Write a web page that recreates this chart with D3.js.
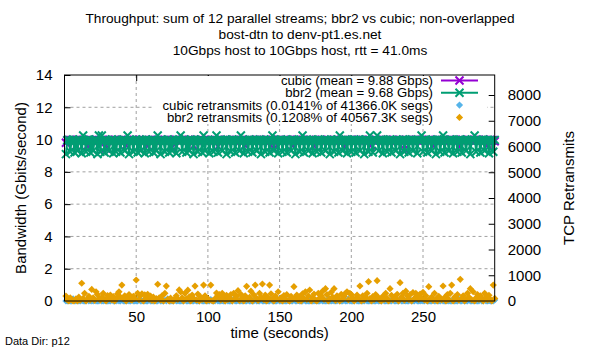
<!DOCTYPE html>
<meta charset="utf-8">
<script src="https://cdn.jsdelivr.net/npm/d3@7"></script>
<style>
  body { margin: 0; background: #fff; }
  text { font-family: "Liberation Sans", Arial, sans-serif; fill: #000; }
  .title { font-size: 13.7px; text-anchor: middle; }
  .tick { font-size: 15px; }
  .label { font-size: 15px; text-anchor: middle; }
  .key { font-size: 13.2px; text-anchor: end; }
  .grid { stroke: #a0a0a0; stroke-width: 1; stroke-dasharray: 3,3; }
</style>
<svg width="600" height="350"></svg>
<script>

// throughput, Gbits/second, one sample per second (t = 1..300)
const cubicBw = [
  9.80, 9.96, 9.95, 9.97, 9.96, 9.95, 9.96, 9.60, 9.97, 9.96,
  9.95, 9.96, 9.97, 9.96, 9.95, 9.62, 9.96, 9.97, 9.95, 9.96,
  9.96, 9.97, 9.95, 9.96, 9.96, 9.95, 9.97, 9.96, 9.45, 9.96,
  9.97, 9.95, 9.96, 9.96, 9.97, 9.95, 9.96, 9.96, 9.95, 9.97,
  9.96, 9.96, 9.65, 9.97, 9.95, 9.96, 9.96, 9.97, 9.95, 9.96,
  9.95, 9.97, 9.96, 9.96, 9.96, 9.95, 9.97, 9.60, 9.96, 9.96,
  9.97, 9.95, 9.96, 9.96, 9.97, 9.95, 9.96, 9.96, 9.95, 9.97,
  9.96, 9.96, 9.97, 9.95, 9.50, 9.96, 9.96, 9.97, 9.95, 9.96,
  9.96, 9.97, 9.96, 9.95, 9.96, 9.95, 9.97, 9.96, 9.96, 9.62,
  9.97, 9.96, 9.95, 9.96, 9.97, 9.96, 9.95, 9.96, 9.95, 9.97,
  9.96, 9.96, 9.97, 9.95, 9.96, 9.96, 9.58, 9.97, 9.96, 9.95,
  9.96, 9.97, 9.96, 9.95, 9.96, 9.95, 9.97, 9.96, 9.96, 9.97,
  9.95, 9.96, 9.96, 9.97, 9.96, 9.65, 9.95, 9.96, 9.97, 9.96,
  9.95, 9.96, 9.95, 9.97, 9.96, 9.96, 9.97, 9.95, 9.96, 9.96,
  9.97, 9.96, 9.95, 9.96, 9.97, 9.45, 9.96, 9.95, 9.96, 9.97,
  9.96, 9.95, 9.96, 9.95, 9.97, 9.96, 9.96, 9.97, 9.62, 9.96,
  9.96, 9.97, 9.96, 9.95, 9.96, 9.97, 9.96, 9.95, 9.96, 9.95,
  9.97, 9.96, 9.96, 9.60, 9.97, 9.95, 9.96, 9.96, 9.97, 9.96,
  9.95, 9.96, 9.97, 9.96, 9.95, 9.96, 9.95, 9.97, 9.96, 9.96,
  9.97, 9.95, 9.96, 9.96, 9.55, 9.97, 9.96, 9.95, 9.96, 9.97,
  9.96, 9.95, 9.96, 9.95, 9.97, 9.96, 9.96, 9.97, 9.95, 9.96,
  9.96, 9.97, 9.96, 9.65, 9.95, 9.96, 9.97, 9.96, 9.95, 9.96,
  9.95, 9.97, 9.96, 9.96, 9.97, 9.95, 9.96, 9.96, 9.97, 9.96,
  9.95, 9.96, 9.97, 9.96, 9.95, 9.96, 9.40, 9.97, 9.96, 9.96,
  9.97, 9.95, 9.96, 9.96, 9.97, 9.96, 9.95, 9.96, 9.97, 9.96,
  9.95, 9.96, 9.95, 9.97, 9.96, 9.96, 9.62, 9.95, 9.96, 9.96,
  9.97, 9.96, 9.95, 9.96, 9.97, 9.96, 9.95, 9.96, 9.95, 9.97,
  9.96, 9.96, 9.97, 9.95, 9.96, 9.58, 9.97, 9.96, 9.95, 9.96,
  9.97, 9.96, 9.95, 9.96, 9.95, 9.97, 9.96, 9.96, 9.97, 9.95,
  9.96, 9.96, 9.97, 9.96, 9.65, 9.96, 9.97, 9.95, 9.96, 9.90
];

const bbr2Bw = [
  9.10, 9.96, 9.98, 9.25, 9.94, 10.00, 9.20, 9.96, 9.30, 9.98,
  9.94, 9.15, 10.25, 9.96, 9.25, 9.98, 10.00, 9.20, 9.94, 9.30,
  9.96, 9.98, 9.10, 10.25, 9.25, 10.25, 9.94, 9.20, 9.98, 9.96,
  9.30, 9.94, 10.00, 9.15, 9.96, 9.25, 9.98, 9.94, 9.20, 9.96,
  10.00, 9.30, 9.94, 10.25, 9.10, 9.98, 9.96, 9.25, 9.94, 10.00,
  9.20, 9.96, 9.30, 9.98, 9.94, 9.15, 10.00, 9.96, 9.25, 9.94,
  9.98, 9.20, 9.96, 9.30, 10.25, 9.94, 9.10, 9.98, 9.96, 9.25,
  9.94, 10.00, 9.20, 9.96, 9.30, 9.98, 9.94, 9.15, 9.96, 10.00,
  10.25, 9.25, 9.94, 9.98, 9.20, 9.96, 9.30, 10.00, 9.94, 9.10,
  9.98, 9.96, 9.25, 9.94, 10.00, 9.20, 10.25, 9.30, 9.96, 9.98,
  9.15, 9.94, 9.96, 9.25, 9.98, 10.25, 9.20, 9.94, 10.00, 9.30,
  9.96, 9.98, 9.10, 9.94, 9.96, 9.25, 10.00, 9.98, 9.20, 9.94,
  9.96, 9.30, 10.25, 9.94, 9.15, 9.98, 9.96, 9.25, 10.00, 9.94,
  9.20, 9.96, 9.98, 9.30, 9.94, 10.00, 9.10, 9.96, 9.98, 9.25,
  9.94, 9.96, 9.20, 10.00, 10.25, 9.30, 9.98, 9.94, 9.15, 9.96,
  10.00, 9.25, 9.94, 9.98, 9.20, 9.96, 9.94, 9.30, 10.00, 9.98,
  9.10, 9.94, 9.96, 9.25, 9.98, 10.25, 9.20, 9.94, 10.00, 9.30,
  9.96, 9.98, 9.15, 9.94, 9.96, 9.25, 10.00, 9.98, 9.20, 9.94,
  9.96, 9.30, 9.98, 9.94, 9.10, 10.00, 9.96, 9.25, 9.94, 9.98,
  9.20, 10.25, 9.96, 9.30, 9.94, 10.00, 9.15, 9.98, 9.96, 9.25,
  9.94, 10.00, 9.20, 9.96, 9.98, 9.30, 9.94, 9.96, 9.10, 10.00,
  9.98, 9.25, 10.25, 9.94, 9.20, 9.96, 9.98, 10.25, 9.30, 9.94,
  10.00, 9.15, 9.96, 9.98, 9.25, 9.94, 10.00, 9.20, 9.96, 9.94,
  9.30, 9.98, 9.96, 9.10, 9.94, 10.00, 9.25, 9.98, 9.96, 9.20,
  9.94, 10.00, 9.30, 9.96, 9.98, 9.15, 9.94, 9.96, 10.25, 9.25,
  9.98, 10.00, 9.20, 9.94, 9.96, 9.30, 9.98, 9.94, 9.10, 10.00,
  9.96, 9.25, 9.98, 10.25, 9.20, 9.94, 9.96, 9.30, 10.00, 9.98,
  9.15, 9.94, 9.96, 9.25, 9.98, 10.00, 9.20, 9.94, 9.96, 9.30,
  9.98, 9.94, 9.10, 10.00, 9.96, 10.25, 9.25, 9.94, 9.98, 9.20,
  9.96, 10.00, 9.30, 9.94, 9.98, 9.15, 9.96, 9.94, 9.25, 9.98
];

// TCP retransmits per second
const cubicRetr = [
  0, 0, 40, 0, 0, 80, 0, 0, 20, 0,
  0, 30, 0, 0, 0, 60, 0, 10, 0, 0,
  50, 0, 0, 0, 70, 0, 0, 20, 0, 0,
  0, 0, 60, 0, 0, 0, 30, 0, 0, 80,
  0, 0, 0, 20, 0, 0, 50, 0, 0, 0,
  0, 70, 0, 0, 10, 0, 0, 0, 40, 0,
  0, 0, 20, 0, 0, 60, 0, 0, 0, 30,
  0, 80, 0, 0, 0, 0, 50, 0, 10, 0,
  0, 0, 0, 40, 0, 0, 0, 70, 0, 0,
  30, 0, 0, 0, 60, 0, 0, 0, 20, 0,
  0, 50, 0, 0, 0, 80, 0, 0, 0, 10,
  0, 0, 40, 0, 0, 0, 0, 60, 0, 0,
  20, 0, 0, 0, 70, 0, 0, 30, 0, 0,
  0, 0, 50, 0, 0, 0, 80, 0, 0, 0,
  10, 0, 0, 60, 0, 0, 0, 0, 40, 0,
  0, 70, 0, 0, 0, 20, 0, 0, 0, 50,
  0, 0, 30, 0, 0, 0, 80, 0, 0, 0,
  0, 60, 0, 0, 10, 0, 0, 0, 40, 0,
  0, 0, 0, 70, 0, 0, 20, 0, 0, 0,
  50, 0, 0, 0, 30, 0, 0, 80, 0, 0,
  0, 0, 60, 0, 0, 0, 10, 0, 0, 40,
  0, 0, 0, 70, 0, 0, 0, 20, 0, 0,
  0, 50, 0, 0, 0, 30, 0, 0, 80, 0,
  0, 0, 0, 60, 0, 0, 10, 0, 0, 0,
  40, 0, 0, 0, 70, 0, 0, 0, 20, 0,
  0, 50, 0, 0, 0, 0, 30, 0, 0, 80,
  0, 0, 60, 0, 0, 0, 10, 0, 0, 0,
  40, 0, 0, 0, 70, 0, 0, 20, 0, 0,
  0, 50, 0, 0, 0, 30, 0, 0, 0, 80,
  0, 0, 60, 0, 0, 10, 0, 0, 0, 40
];

const bbr2Retr = [
  190, 40, 0, 120, 60, 0, 20, 80, 0, 150,
  30, 690, 100, 300, 0, 60, 180, 40, 450, 120,
  20, 360, 250, 90, 30, 140, 300, 60, 0, 210,
  100, 230, 40, 170, 0, 80, 280, 360, 150, 620,
  90, 200, 0, 120, 250, 60, 30, 180, 100, 815,
  300, 50, 210, 280, 0, 240, 130, 260, 70, 190,
  20, 150, 0, 90, 650, 120, 40, 200, 0, 300,
  580, 60, 0, 110, 20, 0, 90, 200, 60, 430,
  350, 120, 0, 300, 80, 420, 160, 0, 230, 100,
  580, 40, 270, 0, 150, 60, 620, 200, 0, 90,
  30, 620, 10, 0, 90, 310, 200, 250, 40, 300,
  160, 0, 220, 60, 130, 250, 0, 300, 80, 180,
  400, 20, 260, 100, 0, 200, 570, 60, 140, 380,
  0, 240, 620, 100, 20, 300, 150, 660, 50, 230,
  0, 120, 620, 280, 60, 0, 190, 90, 360, 40,
  120, 0, 210, 60, 250, 30, 0, 180, 70, 556,
  100, 230, 20, 150, 0, 280, 90, 360, 60, 200,
  427, 0, 130, 270, 40, 0, 300, 120, 200, 380,
  60, 480, 250, 0, 90, 340, 150, 480, 20, 200,
  100, 0, 260, 70, 180, 300, 360, 40, 300, 250,
  120, 0, 60, 230, 100, 582, 0, 200, 40, 150,
  300, 750, 90, 0, 170, 60, 250, 790, 130, 20,
  0, 180, 60, 300, 100, 0, 480, 220, 40, 150,
  90, 260, 0, 712, 150, 300, 30, 380, 200, 60,
  250, 0, 330, 100, 300, 180, 60, 270, 120, 340,
  40, 200, 0, 556, 90, 150, 20, 300, 60, 0,
  180, 100, 40, 582, 130, 0, 250, 60, 300, 620,
  0, 150, 90, 250, 30, 842, 100, 200, 0, 60,
  300, 150, 480, 40, 360, 0, 120, 250, 60, 200,
  100, 0, 300, 150, 40, 220, 60, 0, 620, 100
];

const titleLines = [
  "Throughput: sum of 12 parallel streams; bbr2 vs cubic; non-overlapped",
  "bost-dtn to denv-pt1.es.net",
  "10Gbps host to 10Gbps host, rtt = 41.0ms"
];
const keyLabels = [
  "cubic (mean = 9.88 Gbps)",
  "bbr2 (mean = 9.68 Gbps)",
  "cubic retransmits (0.0141% of 41366.0K segs)",
  "bbr2 retransmits (0.1208% of 40567.3K segs)"
];
const xTicks = [50, 100, 150, 200, 250];
const yTicks = [0, 2, 4, 6, 8, 10, 12, 14];
const y2Ticks = [0, 1000, 2000, 3000, 4000, 5000, 6000, 7000, 8000];

const colors = { cubic: "#9400d3", bbr2: "#009e73", cubicR: "#56b4e9", bbr2R: "#e69f00" };

const svg = d3.select("svg");
const pLeft = 64.5, pRight = 494.7, pTop = 75, pBottom = 301;

const x = d3.scaleLinear().domain([0, 300]).range([pLeft, pRight]);
const y = d3.scaleLinear().domain([0, 14]).range([pBottom, pTop]);
const y2 = d3.scaleLinear().domain([0, 8777]).range([pBottom, pTop]);

// title
svg.append("g").selectAll("text").data(titleLines).join("text")
  .attr("class", "title")
  .attr("x", 300).attr("y", (d, i) => 23 + i * 16)
  .text(d => d);

// grid
const grid = svg.append("g");
grid.selectAll(".gx").data(xTicks).join("line")
  .attr("class", "grid")
  .attr("x1", d => x(d)).attr("x2", d => x(d))
  .attr("y1", pTop).attr("y2", pBottom);
grid.selectAll(".gy").data(yTicks.filter(d => d > 0 && d < 14)).join("line")
  .attr("class", "grid")
  .attr("x1", pLeft).attr("x2", pRight)
  .attr("y1", d => y(d)).attr("y2", d => y(d));

// axes (gnuplot style: ticks inward)
const tk = 6;
const axX = svg.append("g").attr("transform", `translate(0,${pBottom})`)
  .call(d3.axisBottom(x).tickValues(xTicks).tickSize(-tk).tickPadding(10));
const axXTop = svg.append("g").attr("transform", `translate(0,${pTop})`)
  .call(d3.axisTop(x).tickValues(xTicks).tickSize(-tk).tickFormat(""));
const axY = svg.append("g").attr("transform", `translate(${pLeft},0)`)
  .call(d3.axisLeft(y).tickValues(yTicks).tickSize(-tk).tickPadding(12));
const axY2 = svg.append("g").attr("transform", `translate(${pRight},0)`)
  .call(d3.axisRight(y2).tickValues(y2Ticks).tickFormat(d3.format("d")).tickSize(-tk).tickPadding(13));
[axX, axXTop, axY, axY2].forEach(a => {
  a.select(".domain").remove();
  a.selectAll("line").attr("stroke", "#000");
  a.selectAll("text").attr("class", "tick").attr("font-family", null).attr("font-size", null);
});

const asPoints = (arr) => arr.map((v, i) => ({ t: i + 1, v }));

// throughput lines + X marks
function drawBw(arr, color) {
  const pts = asPoints(arr);
  const g = svg.append("g");
  g.append("path")
    .datum(pts)
    .attr("fill", "none").attr("stroke", color).attr("stroke-width", 2)
    .attr("d", d3.line().x(d => x(d.t)).y(d => y(d.v)));
  const s = 4;
  g.selectAll("path.m").data(pts).join("path")
    .attr("class", "m")
    .attr("stroke", color).attr("stroke-width", 2).attr("fill", "none")
    .attr("d", d => {
      const cx = x(d.t), cy = y(d.v);
      return `M${cx - s},${cy - s}L${cx + s},${cy + s}M${cx - s},${cy + s}L${cx + s},${cy - s}`;
    });
}
drawBw(cubicBw, colors.cubic);
drawBw(bbr2Bw, colors.bbr2);

// retransmits as diamonds on y2
const diamond = (cx, cy, r) => `M${cx},${cy - r}L${cx + r},${cy}L${cx},${cy + r}L${cx - r},${cy}Z`;
function drawRetr(arr, color) {
  svg.append("g").selectAll("path").data(asPoints(arr)).join("path")
    .attr("fill", color)
    .attr("d", d => diamond(x(d.t), y2(d.v), 3.6));
}
drawRetr(cubicRetr, colors.cubicR);
drawRetr(bbr2Retr, colors.bbr2R);

// border
svg.append("rect")
  .attr("x", pLeft).attr("y", pTop).attr("width", pRight - pLeft).attr("height", pBottom - pTop)
  .attr("fill", "none").attr("stroke", "#000").attr("stroke-width", 1);

// key
const keyX = 433, keyY0 = 80.5, keyDy = 12.3;
const key = svg.append("g");
key.append("rect").attr("x", 152).attr("y", pTop + 1).attr("width", 487 - 152).attr("height", 48).attr("fill", "#fff");
const keyColors = [colors.cubic, colors.bbr2, colors.cubicR, colors.bbr2R];
keyLabels.forEach((lab, i) => {
  const cy = keyY0 + i * keyDy;
  key.append("text").attr("class", "key").attr("x", keyX).attr("y", cy).attr("dy", "0.35em").text(lab);
  const mx = 459.5;
  if (i < 2) {
    key.append("line").attr("x1", 441).attr("x2", 478).attr("y1", cy).attr("y2", cy)
      .attr("stroke", keyColors[i]).attr("stroke-width", 2);
    key.append("path").attr("stroke", keyColors[i]).attr("stroke-width", 2)
      .attr("d", `M${mx - 4},${cy - 4}L${mx + 4},${cy + 4}M${mx - 4},${cy + 4}L${mx + 4},${cy - 4}`);
  } else {
    key.append("path").attr("fill", keyColors[i]).attr("d", diamond(mx, cy, 3.6));
  }
});

// axis labels
svg.append("text").attr("class", "label")
  .attr("transform", `translate(21,${(pTop + pBottom) / 2}) rotate(-90)`)
  .attr("dy", "0.35em").text("Bandwidth (Gbits/second)");
svg.append("text").attr("class", "label")
  .attr("transform", `translate(569,${(pTop + pBottom) / 2}) rotate(-90)`)
  .attr("dy", "0.35em").text("TCP Retransmits");
svg.append("text").attr("class", "label")
  .attr("x", (pLeft + pRight) / 2).attr("y", 338).text("time (seconds)");
svg.append("text").attr("x", 5).attr("y", 345).attr("font-size", 11).text("Data Dir: p12");
</script>
